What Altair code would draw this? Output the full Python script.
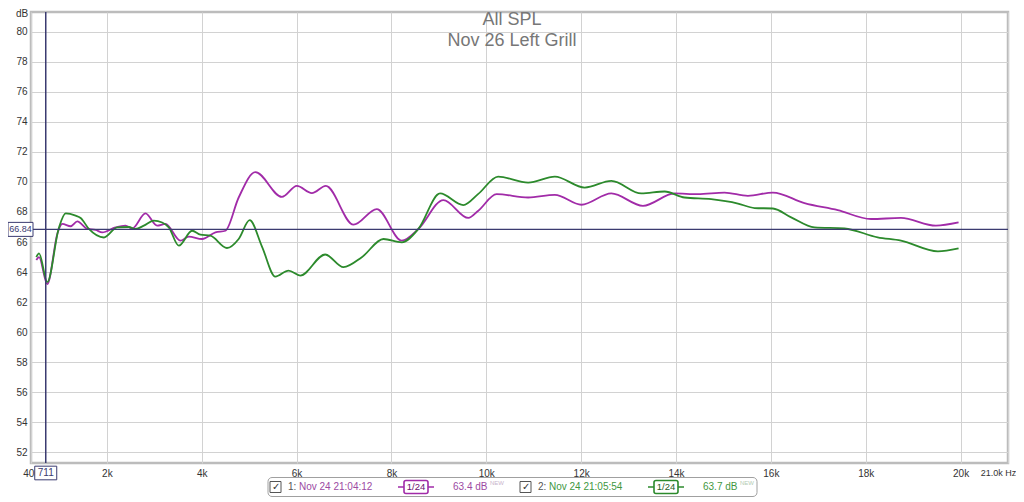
import altair as alt
import pandas as pd

# ---------------- data ----------------
freq1 = [512, 569, 743, 960, 1060, 1236, 1376, 1586, 1762, 1902, 2182, 2393, 2533, 2814,
         3059, 3235, 3551, 3726, 4007, 4288, 4499, 4779, 5130, 5690, 6006, 6322, 6617,
         7200, 7691, 8217, 8568, 9095, 9621, 9831, 10218, 10883, 11445, 12006, 12637,
         13303, 13970, 14461, 15022, 15516, 16042, 16709, 17410, 18111, 18743, 19480, 19958]
db1 = [64.8, 65.0, 63.2, 66.6, 67.2, 67.05, 67.37, 66.87, 66.8, 66.64, 66.97, 67.09, 66.9, 67.9,
       67.09, 67.2, 66.09, 66.36, 66.2, 66.64, 66.75, 68.96, 70.65, 69.0, 69.73, 69.25, 69.73,
       67.15, 68.19, 66.09, 66.87, 68.79, 67.6, 68.08, 69.18, 68.96, 69.14, 68.48, 69.23,
       68.41, 69.23, 69.18, 69.29, 69.07, 69.29, 68.59, 68.12, 67.53, 67.6, 67.09, 67.3]

freq2 = [512, 569, 743, 990, 1131, 1341, 1446, 1621, 1937, 2217, 2463, 2604, 2779, 2989,
         3165, 3305, 3516, 3796, 3972, 4183, 4532, 4779, 5010, 5270, 5551, 5831, 6077,
         6603, 6989, 7375, 7831, 8217, 8568, 9025, 9516, 9831, 10250, 10883, 11445, 12076,
         12637, 13268, 13760, 14181, 14742, 15306, 15657, 16042, 16428, 16920, 17552,
         18252, 18743, 19522, 19958]
db2 = [65.0, 65.25, 63.33, 66.97, 67.9, 67.75, 67.6, 66.87, 66.3, 66.97, 67.0, 66.87, 67.09, 67.42,
       67.3, 66.97, 65.76, 66.75, 66.49, 66.42, 65.6, 66.2, 67.45, 65.7, 63.7, 64.1, 63.77,
       65.17, 64.33, 64.99, 66.2, 65.98, 66.87, 69.23, 68.46, 69.2, 70.35, 69.95, 70.35, 69.62,
       70.07, 69.23, 69.36, 68.96, 68.85, 68.56, 68.26, 68.23, 67.64, 66.97, 66.9,
       66.31, 66.09, 65.38, 65.58]

series_names = ["1: Nov 24 21:04:12", "2: Nov 24 21:05:54"]
series_colors = ["#a12ba8", "#2c8a2c"]
legend_levels = ["63.4 dB", "63.7 dB"]
x_ticks = [400, 2000, 4000, 6000, 8000, 10000, 12000, 14000, 16000, 18000, 20000, 21000]
y_ticks = list(range(52, 81, 2))
cursor_freq = [711]
cursor_db = [66.84]
title_lines = ["All SPL", "Nov 26 Left Grill"]

# ---------------- build ----------------
df = pd.concat([
    pd.DataFrame({"freq": freq1, "db": db1, "series": series_names[0]}),
    pd.DataFrame({"freq": freq2, "db": db2, "series": series_names[1]}),
])

W, H = 977, 451
FONT = "Liberation Sans"
NAVY = "#3b3b70"

xscale = alt.Scale(domain=[400, 21000], nice=False, zero=False)
yscale = alt.Scale(domain=[51.3, 81.3], nice=False, zero=False)

xaxis = alt.Axis(values=x_ticks, tickCount=len(x_ticks) + 5, title=None, ticks=False, domain=False,
                 grid=True, gridColor="#d2d2d2", labelFont=FONT,
                 labelFontSize={"condition": {"test": "datum.value == 21000", "value": 9}, "value": 10},
                 labelColor="#333333", labelPadding=5, labelOverlap=False, labelFlush=False,
                 labelBound=False,
                 labelOffset={"condition": {"test": "datum.value == 21000", "value": -10}, "value": 0},
                 labelExpr="datum.value == 21000 ? '21.0k Hz' : (datum.value < 1000 ? '' + datum.value : (datum.value/1000) + 'k')")
yaxis = alt.Axis(values=y_ticks, tickCount=len(y_ticks) + 5, title=None, ticks=False, domain=False,
                 grid=True, gridColor="#d2d2d2", labelFont=FONT, labelFontSize=10,
                 labelColor="#333333", labelPadding=4, labelOverlap=False)

lines = alt.Chart(df).mark_line(strokeWidth=1.8, interpolate="monotone", clip=True).encode(
    x=alt.X("freq:Q", scale=xscale, axis=xaxis),
    y=alt.Y("db:Q", scale=yscale, axis=yaxis),
    color=alt.Color("series:N", scale=alt.Scale(domain=series_names, range=series_colors), legend=None),
    order=alt.Order("freq:Q"),
)

cur_x_df = pd.DataFrame({"freq": cursor_freq, "lab": [str(v) for v in cursor_freq]})
cur_y_df = pd.DataFrame({"db": cursor_db, "lab": [f"{v:.2f}" for v in cursor_db]})

vrule = alt.Chart(cur_x_df).mark_rule(color=NAVY, strokeWidth=1.5).encode(
    x=alt.X("freq:Q", scale=xscale))
hrule = alt.Chart(cur_y_df).mark_rule(color=NAVY, strokeWidth=1.2).encode(
    y=alt.Y("db:Q", scale=yscale))

vbox = alt.Chart(cur_x_df).mark_point(
    shape="M-1,-0.62L1,-0.62L1,0.62L-1,0.62Z", size=22 * 22, filled=False,
    fill="white", fillOpacity=1, stroke=NAVY, strokeWidth=1, opacity=1).encode(
    x=alt.X("freq:Q", scale=xscale), y=alt.value(H + 10))
vtext = alt.Chart(cur_x_df).mark_text(font=FONT, fontSize=10, color=NAVY).encode(
    x=alt.X("freq:Q", scale=xscale), y=alt.value(H + 10), text="lab:N")

hbox = alt.Chart(cur_y_df).mark_point(
    shape="M-1,-0.56L1,-0.56L1,0.56L-1,0.56Z", size=25 * 25, filled=False,
    fill="white", fillOpacity=1, stroke=NAVY, strokeWidth=1, opacity=1).encode(
    x=alt.value(-10.5), y=alt.Y("db:Q", scale=yscale))
htext = alt.Chart(cur_y_df).mark_text(font=FONT, fontSize=9, color=NAVY).encode(
    x=alt.value(-10.5), y=alt.Y("db:Q", scale=yscale), text="lab:N")

one = pd.DataFrame({"k": [0]})

def txt(s, x, y, size=10, color="#333333", align="center", weight="normal"):
    return alt.Chart(one).mark_text(text=s, font=FONT, fontSize=size, color=color,
                                    align=align, baseline="middle", fontWeight=weight).encode(
        x=alt.value(x), y=alt.value(y))

def box(x1, x2, y1, y2, stroke, fill="white", sw=1.0, radius=0):
    return alt.Chart(one).mark_rect(fill=fill, stroke=stroke, strokeWidth=sw,
                                    cornerRadius=radius).encode(
        x=alt.value(x1), x2=alt.value(x2), y=alt.value(y1), y2=alt.value(y2))

def hline(x1, x2, y, color, sw=1.5):
    return alt.Chart(one).mark_rule(color=color, strokeWidth=sw).encode(
        x=alt.value(x1), x2=alt.value(x2), y=alt.value(y))

title_color = "#777777"
titles = [txt(title_lines[0], 481, 8, size=18, color=title_color),
          txt(title_lines[1], 481, 29, size=18, color=title_color)]

db_label = txt("dB", -9, 2, size=10, color="#333333")

# legend (pixel layout relative to the plot origin)
LY = 475
legend_parts = [box(237, 726, LY - 9.5, LY + 9.5, "#a0a0a0", radius=4)]
text_colors = ["#9c4aa3", "#3f973f"]
icon_text = ["#6a1070", "#1e5e1e"]
offsets = [0, 250]
for i in range(2):
    o = offsets[i]
    legend_parts += [
        box(239 + o, 250 + o, LY - 5.5, LY + 5.5, "#555555", sw=1),
        txt("✓", 244.5 + o, LY, size=10, color="#333333"),
        txt(series_names[i][:2], 257 + o, LY, size=10, color="#555555", align="left"),
        txt(series_names[i][3:], 268 + o, LY, size=10, color=text_colors[i], align="left"),
        hline(367 + o, 403 + o, LY, series_colors[i], sw=1.6),
        box(373 + o, 397 + o, LY - 6.5, LY + 6.5, series_colors[i], sw=1.6, radius=2),
        txt("1/24", 385 + o, LY, size=9.5, color=icon_text[i]),
        txt(legend_levels[i], 422 + o, LY, size=10, color=text_colors[i], align="left"),
        txt("NEW", 459 + o, LY - 4, size=6, color="#c8b4cc" if i == 0 else "#b4ccb4", align="left"),
    ]

chart = alt.layer(
    lines, vrule, hrule, vbox, vtext, hbox, htext, db_label, *titles, *legend_parts
).properties(
    width=W, height=H,
    padding={"left": 23, "top": 4, "right": 8, "bottom": 36},
    autosize=alt.AutoSizeParams(type="none"),
    background="white",
).configure_view(stroke="#bcbcbc", strokeWidth=2.5)

chart.save("out.html", embed_options={"renderer": "svg", "actions": False})
